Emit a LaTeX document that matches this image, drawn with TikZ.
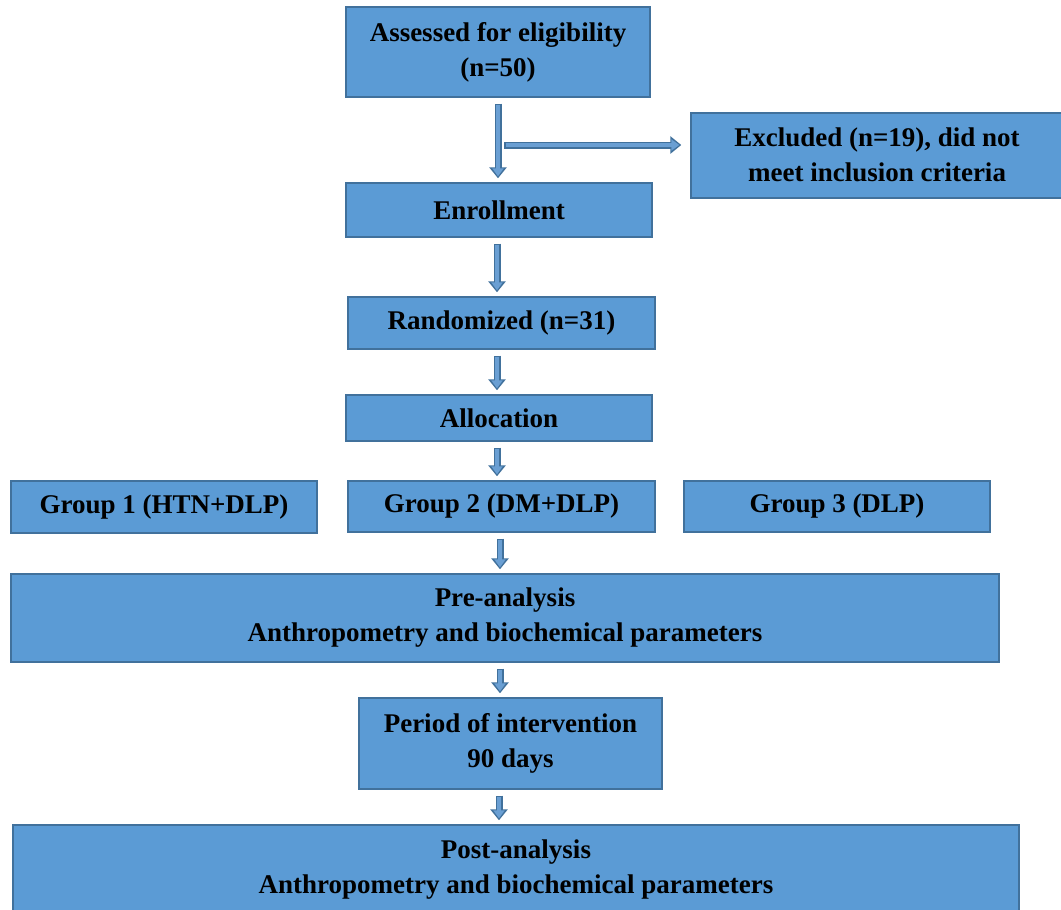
\documentclass[tikz,border=0pt]{standalone}
\usepackage{fontspec}
\setmainfont{Liberation Serif}
\usetikzlibrary{arrows.meta}
\definecolor{boxfill}{HTML}{5B9BD5}
\definecolor{boxline}{HTML}{41719C}
\definecolor{arrlight}{HTML}{6A9FD3}
\tikzset{
  fbox/.style={draw=boxline, line width=1.4pt, fill=boxfill, inner sep=0pt,
    align=center, font=\fontsize{27}{35}\selectfont\bfseries, text=black},
  arrout/.style={draw=boxline, line width=7pt, -{Triangle[length=11pt,width=17pt]}, shorten <=6pt, shorten >=4pt},
  arrin/.style={draw=arrlight, line width=3.6pt, -{Triangle[length=8pt,width=11pt]}, shorten <=7.5pt, shorten >=6pt},
}
\begin{document}
\begin{tikzpicture}[x=1pt,y=-1pt]
\useasboundingbox (0,0) rectangle (1061,910);
\clip (0,0) rectangle (1061,910);
\node[fbox, minimum width=304pt, minimum height=90pt] (assess) at (498,52) {Assessed for eligibility\\(n=50)};
\node[fbox, minimum width=372pt, minimum height=85pt] (excl) at (877,155.5) {\raisebox{2pt}{Excluded (n=19), did not}\\\raisebox{2pt}{meet inclusion criteria}};
\node[fbox, minimum width=306pt, minimum height=54pt] (enrol) at (499,210) {Enrollment};
\node[fbox, minimum width=307pt, minimum height=52pt] (rand) at (501.5,323) {Randomized (n=31)};
\node[fbox, minimum width=306pt, minimum height=46pt] (alloc) at (499,418) {Allocation};
\node[fbox, minimum width=306pt, minimum height=52pt] (g1) at (164,507) {\raisebox{-2pt}{Group 1 (HTN+DLP)}};
\node[fbox, minimum width=307pt, minimum height=51pt] (g2) at (501.5,506.5) {Group 2 (DM+DLP)};
\node[fbox, minimum width=306pt, minimum height=51pt] (g3) at (837,506.5) {\raisebox{-3pt}{Group 3 (DLP)}};
\node[fbox, minimum width=988pt, minimum height=88pt] (pre) at (505,618) {Pre-analysis\\Anthropometry and biochemical parameters};
\node[fbox, minimum width=303pt, minimum height=91pt] (period) at (510.5,743.5) {Period of intervention\\90 days};
\node[fbox, minimum width=1006pt, minimum height=90pt] (post) at (516,870) {Post-analysis\\Anthropometry and biochemical parameters};
\coordinate (branch) at (504,145);
\foreach \a/\b/\x in {assess/enrol/498, enrol/rand/497, rand/alloc/497, alloc/g2/497, g2/pre/500, pre/period/500, period/post/499}{
  \coordinate (tmpx) at (\x,0);
  \draw[arrout] (\a.south -| tmpx) -- (\b.north -| tmpx);
  \draw[arrin] (\a.south -| tmpx) -- (\b.north -| tmpx);
}
\draw[arrout, shorten <=0pt, shorten >=9pt] (branch) -- (branch -| excl.west);
\draw[arrin, shorten <=1.5pt, shorten >=11pt] (branch) -- (branch -| excl.west);
\end{tikzpicture}
\end{document}
